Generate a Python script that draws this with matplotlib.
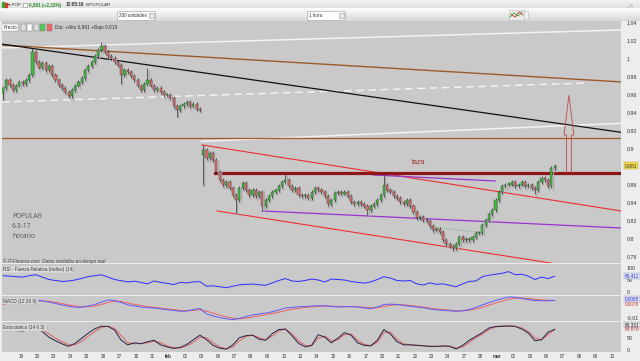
import numpy as np
import matplotlib
matplotlib.use("Agg")
import matplotlib.pyplot as plt
from matplotlib.patches import Polygon, Rectangle
from matplotlib.transforms import blended_transform_factory

plt.rcParams['font.family'] = ['Liberation Sans', 'DejaVu Sans']

# ---------------- data ----------------
day_labels = ["19", "20", "23", "24", "25", "26", "27", "30", "31", "feb", "02", "03",
              "06", "07", "08", "09", "10", "13", "14", "15", "16", "17", "20", "21",
              "22", "23", "24", "27", "28", "mar", "02", "03", "06", "07", "08", "09", "10"]

# hourly-ish closes (5 bars per trading day), first bar = late 18 Jan
closes = [
    0.967, 0.976, 0.971, 0.965, 0.970, 0.974, 0.972, 0.976, 0.982, 1.007,
    0.996, 0.990, 0.995, 0.987, 0.992, 0.982, 0.976, 0.971, 0.967, 0.963,
    0.958, 0.965, 0.970, 0.974, 0.978, 0.987, 0.992, 0.996, 1.003, 1.009,
    1.014, 1.007, 1.003, 1.001, 0.996, 0.993, 0.982, 0.987, 0.985, 0.981,
    0.976, 0.970, 0.965, 0.972, 0.976, 0.970, 0.965, 0.967, 0.963, 0.959,
    0.960, 0.956, 0.947, 0.943, 0.947, 0.949, 0.952, 0.947, 0.949, 0.944,
    0.943, 0.898, 0.889, 0.895, 0.887, 0.874, 0.865, 0.859, 0.863, 0.856,
    0.848, 0.843, 0.856, 0.862, 0.854, 0.848, 0.854, 0.847, 0.852, 0.836,
    0.843, 0.847, 0.852, 0.854, 0.858, 0.863, 0.865, 0.858, 0.854, 0.856,
    0.848, 0.847, 0.848, 0.845, 0.852, 0.856, 0.854, 0.852, 0.847, 0.838,
    0.843, 0.851, 0.852, 0.850, 0.852, 0.847, 0.841, 0.838, 0.841, 0.838,
    0.836, 0.832, 0.836, 0.838, 0.843, 0.848, 0.859, 0.854, 0.852, 0.847,
    0.845, 0.841, 0.838, 0.843, 0.836, 0.829, 0.823, 0.824, 0.821, 0.819,
    0.814, 0.809, 0.811, 0.807, 0.798, 0.794, 0.792, 0.789, 0.794, 0.802,
    0.798, 0.800, 0.798, 0.802, 0.806, 0.806, 0.815, 0.821, 0.827, 0.832,
    0.843, 0.852, 0.858, 0.860, 0.860, 0.863, 0.858, 0.860, 0.863, 0.858,
    0.860, 0.856, 0.854, 0.863, 0.867, 0.865, 0.858, 0.878, 0.881,
]
first_open = 0.962
open_override = {61: 0.893}
wick_high = {9: 1.012, 30: 1.018, 44: 0.989, 61: 0.904, 86: 0.872, 116: 0.871}
wick_low = {0: 0.954, 20: 0.956, 36: 0.972, 53: 0.935, 61: 0.859, 71: 0.828,
            79: 0.832, 111: 0.826, 137: 0.786, 162: 0.849}

# indicators, sampled every 2 bars
rsi = [68, 66, 64, 62, 68, 72, 62, 52, 48, 44,
       46, 50, 57, 64, 68, 72, 62, 52, 47, 42,
       45, 40, 34, 46, 40, 36, 31, 40, 38, 42,
       43, 24, 26, 22, 18, 24, 30, 32, 33, 30,
       28, 38, 48, 56, 46, 44, 48, 54, 50, 42,
       54, 52, 50, 44, 40, 37, 42, 52, 64, 58,
       48, 46, 48, 34, 29, 38, 32, 34, 28, 22,
       34, 44, 46, 64, 70, 74, 78, 85, 72, 74,
       66, 52, 62, 56, 66]
macd = [0.0034, 0.0049, 0.0060, 0.0065, 0.0070, 0.0070, 0.0065, 0.0054, 0.0039, 0.0024,
        0.0010, 0.0000, 0.0001, 0.0013, 0.0029, 0.0054, 0.0075, 0.0070, 0.0049, 0.0026,
        0.0013, 0.0003, -0.0004, -0.0007, -0.0017, -0.0025, -0.0033, -0.0041, -0.0038, -0.0023,
        -0.0012, -0.0069, -0.0089, -0.0105, -0.0118, -0.0127, -0.0115, -0.0095, -0.0079, -0.0069,
        -0.0059, -0.0046, -0.0028, -0.0007, -0.0002, 0.0005, 0.0008, 0.0013, 0.0016, 0.0015,
        0.0008, 0.0003, 0.0005, 0.0007, 0.0003, -0.0007, -0.0014, 0.0003, 0.0029, 0.0032,
        0.0029, 0.0019, 0.0010, 0.0003, -0.0005, -0.0017, -0.0026, -0.0031, -0.0036, -0.0041,
        -0.0036, -0.0023, -0.0002, 0.0024, 0.0049, 0.0070, 0.0090, 0.0106, 0.0103, 0.0092,
        0.0078, 0.0070, 0.0067, 0.0067, 0.0070]
macd_signal = [0.0030, 0.0045, 0.0055, 0.0061, 0.0066, 0.0068, 0.0067, 0.0061, 0.0051, 0.0038,
               0.0025, 0.0013, 0.0006, 0.0006, 0.0014, 0.0030, 0.0050, 0.0063, 0.0060, 0.0045,
               0.0030, 0.0018, 0.0008, 0.0000, -0.0008, -0.0016, -0.0024, -0.0032, -0.0036, -0.0032,
               -0.0024, -0.0040, -0.0060, -0.0080, -0.0098, -0.0112, -0.0118, -0.0112, -0.0100, -0.0088,
               -0.0076, -0.0064, -0.0050, -0.0034, -0.0020, -0.0010, -0.0002, 0.0004, 0.0009, 0.0012,
               0.0012, 0.0009, 0.0007, 0.0006, 0.0005, 0.0000, -0.0006, -0.0006, 0.0008, 0.0020,
               0.0026, 0.0025, 0.0018, 0.0010, 0.0002, -0.0008, -0.0017, -0.0024, -0.0030, -0.0035,
               -0.0036, -0.0030, -0.0018, 0.0000, 0.0022, 0.0044, 0.0064, 0.0082, 0.0094, 0.0096,
               0.0090, 0.0082, 0.0076, 0.0072, 0.0068]
stoch_k = [85, 84, 78, 76, 82, 88, 74, 52, 38, 26,
           16, 28, 48, 68, 85, 95, 94, 80, 40, 22,
           30, 26, 34, 40, 22, 14, 8, 12, 24, 42,
           60, 42, 20, 9, 5, 22, 50, 58, 60, 44,
           40, 66, 82, 84, 58, 28, 14, 20, 62, 52,
           30, 48, 70, 60, 30, 20, 18, 40, 82, 64,
           34, 22, 22, 20, 18, 16, 16, 18, 16, 6,
           20, 40, 55, 70, 88, 94, 95, 96, 94, 84,
           68, 38, 42, 72, 82]
stoch_d = [85, 85, 81, 78, 79, 84, 81, 65, 48, 34,
           22, 22, 36, 56, 74, 90, 95, 86, 58, 30,
           26, 28, 30, 36, 30, 18, 11, 10, 18, 32,
           52, 50, 30, 14, 7, 14, 38, 54, 60, 50,
           42, 56, 76, 84, 66, 38, 20, 18, 48, 56,
           38, 42, 62, 64, 40, 24, 19, 32, 70, 72,
           44, 26, 22, 21, 19, 17, 16, 17, 17, 10,
           14, 32, 50, 64, 82, 92, 95, 96, 95, 88,
           74, 48, 42, 62, 84]

price_ticks = [1.04, 1.02, 1.0, 0.98, 0.96, 0.94, 0.92, 0.90, 0.86, 0.84, 0.82, 0.80, 0.78]
price_labels = ["1,04", "1,02", "1", "0,98", "0,96", "0,94", "0,92", "0,9",
                "0,86", "0,84", "0,82", "0,8", "0,78"]
last_price = 0.881

# drawn trend lines: (day, price) endpoints
brown_diag = ((-1.16, 1.015), (36.54, 0.974))
black_diag = ((-1.16, 1.016), (36.54, 0.918))
white_top = ((-1.16, 1.0117), (36.54, 1.0317))
white_dash = ((-1.16, 0.9517), (34.53, 0.9728))
white_low = ((11.0, 0.9080), (36.54, 0.9280))
brown_level = 0.912
taza_level = (11.81, 0.8725)
red_upper = ((11.02, 0.9040), (36.54, 0.8306))
red_lower = ((11.94, 0.8306), (32.64, 0.7717))
purple_long = ((14.68, 0.8306), (36.54, 0.8117))
purple_short = ((21.44, 0.8706), (28.87, 0.8639))
green_dots = ((25.03, 0.8128), (27.77, 0.8072))
arrow_x, arrow_base, arrow_head, arrow_tip = 33.37, 0.8728, 0.915, 0.9594

# ---------------- figure ----------------
W, H = 640, 361
fig = plt.figure(figsize=(W / 100, H / 100), dpi=100, facecolor='#ededed')


def ax_px(x0, y0, x1, y1, **kw):
    return fig.add_axes([x0 / W, 1 - y1 / H, (x1 - x0) / W, (y1 - y0) / H], **kw)


def ftext(x, y, s, **kw):
    kw.setdefault('va', 'center')
    fig.text(x / W, 1 - y / H, s, **kw)


PLOT_BG = '#c9c9c9'
XMIN, XMAX = -1.157, 36.54

# ---- top toolbar
axt = ax_px(0, 0, 640, 21)
grad = np.ones((21, 1, 3))
for i in range(21):
    if i < 8:
        v = 0.95 - 0.06 * i / 7
    else:
        v = 0.99 - 0.14 * (i - 8) / 12
    grad[i, 0, :] = v
axt.imshow(grad, aspect='auto', extent=(0, 640, 21, 0))
axt.set_xlim(0, 640)
axt.set_ylim(21, 0)
axt.axis('off')
axt.add_patch(Rectangle((2, 1.5), 2, 5, color='#33aa33'))
axt.add_patch(Rectangle((4.5, 3), 2, 3.5, color='#dd3333'))
axt.add_patch(Rectangle((117, 11), 38, 8.5, facecolor='white', edgecolor='#aaaaaa', lw=0.5))
axt.add_patch(Rectangle((149, 12.5), 5, 5.5, facecolor='#e6e6e6', edgecolor='#999999', lw=0.4))
axt.add_patch(Rectangle((307, 11), 38, 8.5, facecolor='white', edgecolor='#aaaaaa', lw=0.5))
axt.add_patch(Rectangle((339, 12.5), 5, 5.5, facecolor='#e6e6e6', edgecolor='#999999', lw=0.4))
axt.add_patch(Rectangle((509, 10), 15, 10, facecolor='#eaeaea', edgecolor='#bbbbbb', lw=0.4))
axt.add_patch(Rectangle((524, 11), 4, 8, facecolor='#f0f0f0', edgecolor='#bbbbbb', lw=0.4))
axt.plot([510, 514, 518, 522], [17, 13, 16, 12], color='#3a3', lw=0.6)
axt.plot([511, 515, 519, 523], [14, 17, 12, 15], color='#c33', lw=0.6)
axt.add_patch(Rectangle((23, 2.5), 4, 4, facecolor='white', edgecolor='#888', lw=0.4))

ftext(8, 5, "▾ POP", fontsize=3.2, color='#333')
ftext(29, 5, "0,881 (+2,32%)", fontsize=3.3, color='#2a8a2a', weight='bold')
ftext(66, 5, "12:05:16", fontsize=3.3, color='#333', weight='bold')
ftext(86, 5, "B.POPULAR", fontsize=3.2, color='#333')
ftext(119, 15.3, "200 unidades", fontsize=3.3, color='#333')
ftext(309, 15.3, "1 hora", fontsize=3.3, color='#333')
ftext(626, 4.5, "_ □", fontsize=3.3, color='#999')

# ---- main price panel
ax = ax_px(2, 21, 621, 263)
ax.set_facecolor(PLOT_BG)
for s in ax.spines.values():
    s.set_visible(False)
ax.set_xlim(XMIN, XMAX)
ax.set_ylim(0.77278, 1.04167)
ax.set_xticks([])
ax.yaxis.tick_right()
ax.set_yticks(price_ticks)
ax.set_yticklabels(price_labels)
ax.tick_params(axis='y', length=0, labelsize=3.8, pad=4, colors='#333333')


def seg(a, b, **kw):
    ax.plot([a[0], b[0]], [a[1], b[1]], **kw)


seg(*white_top, color='#f2f2f2', lw=1.1, zorder=2)
seg(*white_low, color='#f2f2f2', lw=1.1, zorder=2)
seg(*white_dash, color='#f2f2f2', lw=1.1, dashes=(5, 3), zorder=2)
ax.axhline(brown_level, color='#a5592c', lw=0.9, zorder=2)
seg(*brown_diag, color='#9c5a2a', lw=1.0, zorder=2)
seg(*black_diag, color='#111111', lw=0.9, zorder=2)
seg(*red_upper, color='#ee2f2f', lw=0.8, zorder=2)
seg(*red_lower, color='#ee2f2f', lw=0.8, zorder=2)
seg(*purple_long, color='#9933cc', lw=0.9, zorder=2)
seg(*purple_short, color='#9933cc', lw=0.9, zorder=2)
seg(*green_dots, color='#55aa55', lw=0.6, ls=(0, (1, 1.5)), zorder=2)
ax.plot([taza_level[0], XMAX], [taza_level[1]] * 2, color='#8e1616', lw=2.3, zorder=2)

# candles
n = len(closes)
bx = -1.1 + 0.2 * np.arange(n)
opens = []
for k in range(n):
    if k in open_override:
        opens.append(open_override[k])
    elif k == 0:
        opens.append(first_open)
    else:
        opens.append(closes[k - 1])
opens = np.array(opens)
cl = np.array(closes)
top = np.maximum(opens, cl)
bot = np.minimum(opens, cl)
hi = np.array([wick_high.get(k, top[k] + 0.0022) for k in range(n)])
lo = np.array([wick_low.get(k, bot[k] - 0.0022) for k in range(n)])
hgt = np.maximum(top - bot, 0.0012)
cols = np.where(cl >= opens, '#3fbf3f', '#e07070')
ax.vlines(bx + 0.07, lo - 0.0015, hi - 0.0015, color='#a9a9a9', lw=1.0, zorder=3)
ax.vlines(bx, lo, hi, color='#1e1e1e', lw=0.45, zorder=4)
ax.bar(bx, hgt, bottom=bot, width=0.13, color=cols, edgecolor='#2a2a2a',
       linewidth=0.25, zorder=5)

# arrow
aw_head, aw_shaft = 0.30, 0.15
arrow_pts = [(arrow_x - aw_shaft, arrow_base), (arrow_x - aw_shaft, arrow_head),
             (arrow_x - aw_head, arrow_head), (arrow_x, arrow_tip),
             (arrow_x + aw_head, arrow_head), (arrow_x + aw_shaft, arrow_head),
             (arrow_x + aw_shaft, arrow_base)]
ax.add_patch(Polygon(arrow_pts, closed=False, fill=False, edgecolor='#c05a5a', lw=0.7, zorder=6))

ax.text(23.8, 0.8839, "taza", fontsize=5.2, color='#a03030', ha='left', va='center')
for i, s in enumerate(["POPULAR", "6-3-17", "horario"]):
    ax.text(0.016, 0.194 - i * 0.042, s, transform=ax.transAxes, fontsize=4.8,
            color='#555555', va='center', family=['Open Sans', 'DejaVu Sans'])
trB = blended_transform_factory(ax.transAxes, ax.transData)
ax.text(1.006, last_price, "0,881", transform=trB, fontsize=3.6, color='#333',
        va='center', ha='left', bbox=dict(boxstyle='square,pad=0.15', fc='#f2dc4a', ec='#b8a030', lw=0.3))

# header of main panel
ax.text(0.002, 0.973, "Precio", transform=ax.transAxes, fontsize=3.4, color='#333',
        va='center', bbox=dict(boxstyle='square,pad=0.2', fc='white', ec='#999', lw=0.3))
for i, c in enumerate(['#dddddd', '#ffffff', '#dddddd', '#55cc55', '#ee6666']):
    ax.add_patch(Rectangle((0.03 + i * 0.0105, 0.958), 0.008, 0.03, transform=ax.transAxes,
                           facecolor=c, edgecolor='#777', lw=0.3, zorder=7))
ax.text(0.085, 0.973, "Día: +Alto 0,881 +Bajo 0,815", transform=ax.transAxes, fontsize=3.4,
        color='#333', va='center')
ftext(3, 261, "© IT-Finance.com  Datos recibidos en tiempo real", fontsize=3.3, color='#444',
      style='italic')


def panel_header(a, s, yfrac):
    a.text(0.002, yfrac, s, transform=a.transAxes, fontsize=3.3, color='#333', va='center',
           bbox=dict(boxstyle='square,pad=0.2', fc='#dcdcdc', ec='#bbbbbb', lw=0.3), zorder=8)


def sub_axes(y0, y1, ylim):
    a = ax_px(2, y0, 621, y1)
    a.set_facecolor(PLOT_BG)
    for s in a.spines.values():
        s.set_visible(False)
    a.set_xlim(XMIN, XMAX)
    a.set_ylim(*ylim)
    a.yaxis.tick_right()
    a.tick_params(axis='y', length=0, labelsize=3.8, pad=4, colors='#333333')
    a.set_xticks([])
    return a


ix = -1.1 + 0.4 * np.arange(len(rsi))

# ---- RSI
ar = sub_axes(264, 295, (-12.5, 116.7))
ar.plot(ix, rsi, color='#2d2dff', lw=0.7)
ar.set_yticks([0, 50, 100])
ar.set_yticklabels(["0", "50", "100"])
panel_header(ar, "RSI - Fuerza Relativa (índice) (14)", 0.83)
tr = blended_transform_factory(ar.transAxes, ar.transData)
ar.text(1.006, rsi[-1], "66,411", transform=tr, fontsize=3.4, color='#3333cc', va='center',
        bbox=dict(boxstyle='square,pad=0.15', fc='#dde0f0', ec='#9999cc', lw=0.3))

# ---- MACD
am = sub_axes(296, 321, (-0.0141, 0.0116))
am.plot(ix, macd_signal, color='#ee6060', lw=0.7)
am.plot(ix, macd, color='#5a5aff', lw=0.7)
am.set_yticks([-0.01])
am.set_yticklabels(["-0,01"])
panel_header(am, "MACD (12 26 9)", 0.8)
am.text(1.006, 0.88, "0,0085", transform=am.transAxes, fontsize=3.4, color='#3333cc', va='center',
        bbox=dict(boxstyle='square,pad=0.12', fc='#dde0f0', ec='#9999cc', lw=0.3))
am.text(1.006, 0.70, "0,0078", transform=am.transAxes, fontsize=3.4, color='#cc3333', va='center')

# ---- Stochastic
ast = sub_axes(322, 352, (-6.0, 111.5))
ast.plot(ix, stoch_d, color='#e06060', lw=0.7)
ast.plot(ix, stoch_k, color='#23234a', lw=0.7)
ast.set_yticks([0, 50])
ast.set_yticklabels(["0", "50"])
panel_header(ast, "Estocástico (14 6 3)", 0.83)
ast.text(1.006, 0.91, "80,331", transform=ast.transAxes, fontsize=3.4, color='#222', va='center',
         bbox=dict(boxstyle='square,pad=0.12', fc='#e4e4e4', ec='#999', lw=0.3))
ast.text(1.006, 0.76, "84,679", transform=ast.transAxes, fontsize=3.4, color='#cc3333', va='center')
ast.set_xticks(np.arange(len(day_labels)))
ast.set_xticklabels(day_labels)
ast.tick_params(axis='x', length=0, labelsize=3.3, pad=1.2, colors='#333333')
for t in ast.get_xticklabels():
    if t.get_text() in ("feb", "mar"):
        t.set_fontweight('bold')

fig.savefig("out.png", dpi=100, facecolor=fig.get_facecolor())
